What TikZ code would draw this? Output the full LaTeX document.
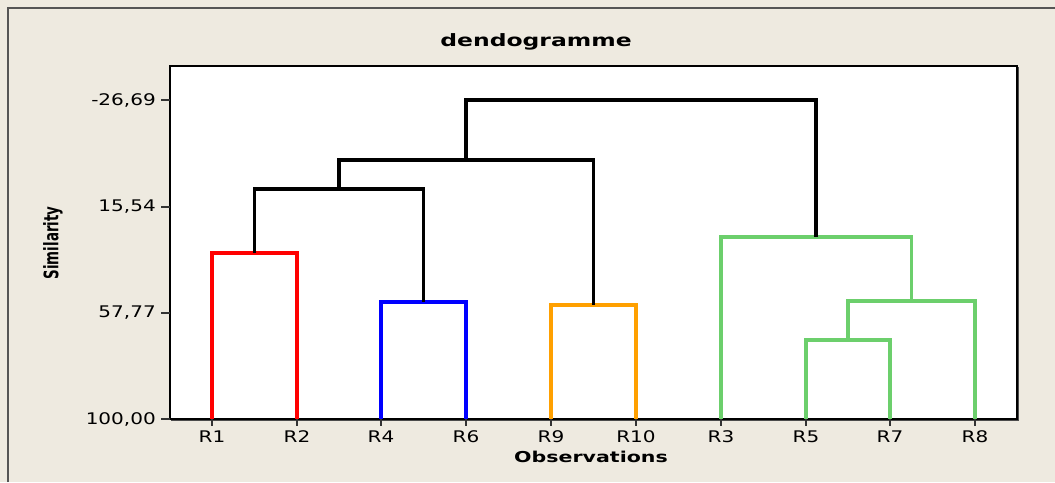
\documentclass[tikz,border=0pt]{standalone}
\usepackage{fontspec}
\setmainfont{DejaVu Sans}
\definecolor{bgc}{HTML}{EEEAE0}
\definecolor{dred}{HTML}{FF0000}
\definecolor{dblue}{HTML}{0000FF}
\definecolor{dorange}{HTML}{FFA000}
\definecolor{dgreen}{HTML}{6CCF6C}
\definecolor{framec}{HTML}{555555}
\begin{document}
\begin{tikzpicture}[x=1pt,y=-1pt,
  tick/.style={draw=black!80, line width=1.2pt},
  ticklab/.style={inner sep=0pt, font=\fontsize{16}{16}\selectfont, xscale=1.25},
  link/.style={line width=3.6pt, line join=miter},
  axtitle/.style={inner sep=0pt, font=\bfseries\fontsize{15}{15}\selectfont}]
\useasboundingbox (0,0) rectangle (1055,482);
\fill[bgc] (0,0) rectangle (1055,482);
\draw[framec, line width=2pt] (8,482) -- (8,8) -- (1055,8);
% plot area
\draw[fill=white, line width=1.4pt] (170,66) rectangle (1017,419);
\draw[black!70, line width=1pt] (1018.8,67) -- (1018.8,420.8) -- (171,420.8);
% titles
\node[axtitle, font=\bfseries\fontsize{17}{17}\selectfont, xscale=1.38] (title) at (536,42) {dendogramme};
\node[axtitle, font=\bfseries\fontsize{20}{20}\selectfont, rotate=90, xscale=0.67] (ylab) at (53,243) {Similarity};
\node[axtitle, xscale=1.37] (xlab) at (591,457) {Observations};
% y ticks
\foreach \v/\y [count=\i] in {-26{,}69/100, 15{,}54/207, 57{,}77/313, 100{,}00/419}{
  \draw[tick] (161,\y) -- (170,\y);
  \node[ticklab, anchor=east] (yt\i) at (156,\y) {\v};
}
% leaves
\foreach \n/\x in {R1/212, R2/297, R4/381, R6/466, R9/551, R10/636, R3/721, R5/806, R7/890, R8/975}{
  \coordinate (\n) at (\x,419);
  \draw[tick] (\x,419) -- (\x,426);
  \node[ticklab, anchor=center] (lab\n) at (\x,437) {\n};
}
% merge points
\coordinate (A) at (254.5,253);
\coordinate (B) at (423.5,302);
\coordinate (C) at (593.5,305);
\coordinate (D) at (848,340);
\coordinate (E) at (911.5,301);
\coordinate (F) at (816,237);
\coordinate (G) at (339,189);
\coordinate (H) at (466,160);
\coordinate (I) at (641,100);
% colored clusters
\draw[link, dred] (R1) |- (A) -| (R2);
\draw[link, dblue] (R4) |- (B) -| (R6);
\draw[link, dorange] (R9) |- (C) -| (R10);
\draw[link, dgreen] (R5) |- (D) -| (R7);
\draw[link, dgreen] (D) |- (E) -| (R8);
\draw[link, dgreen] (R3) |- (F) -| (E);
% black links
\draw[link, black] (A) |- (G) -| (B);
\draw[link, black] (G) |- (H) -| (C);
\draw[link, black] (H) |- (I) -| (F);
\end{tikzpicture}
\end{document}
